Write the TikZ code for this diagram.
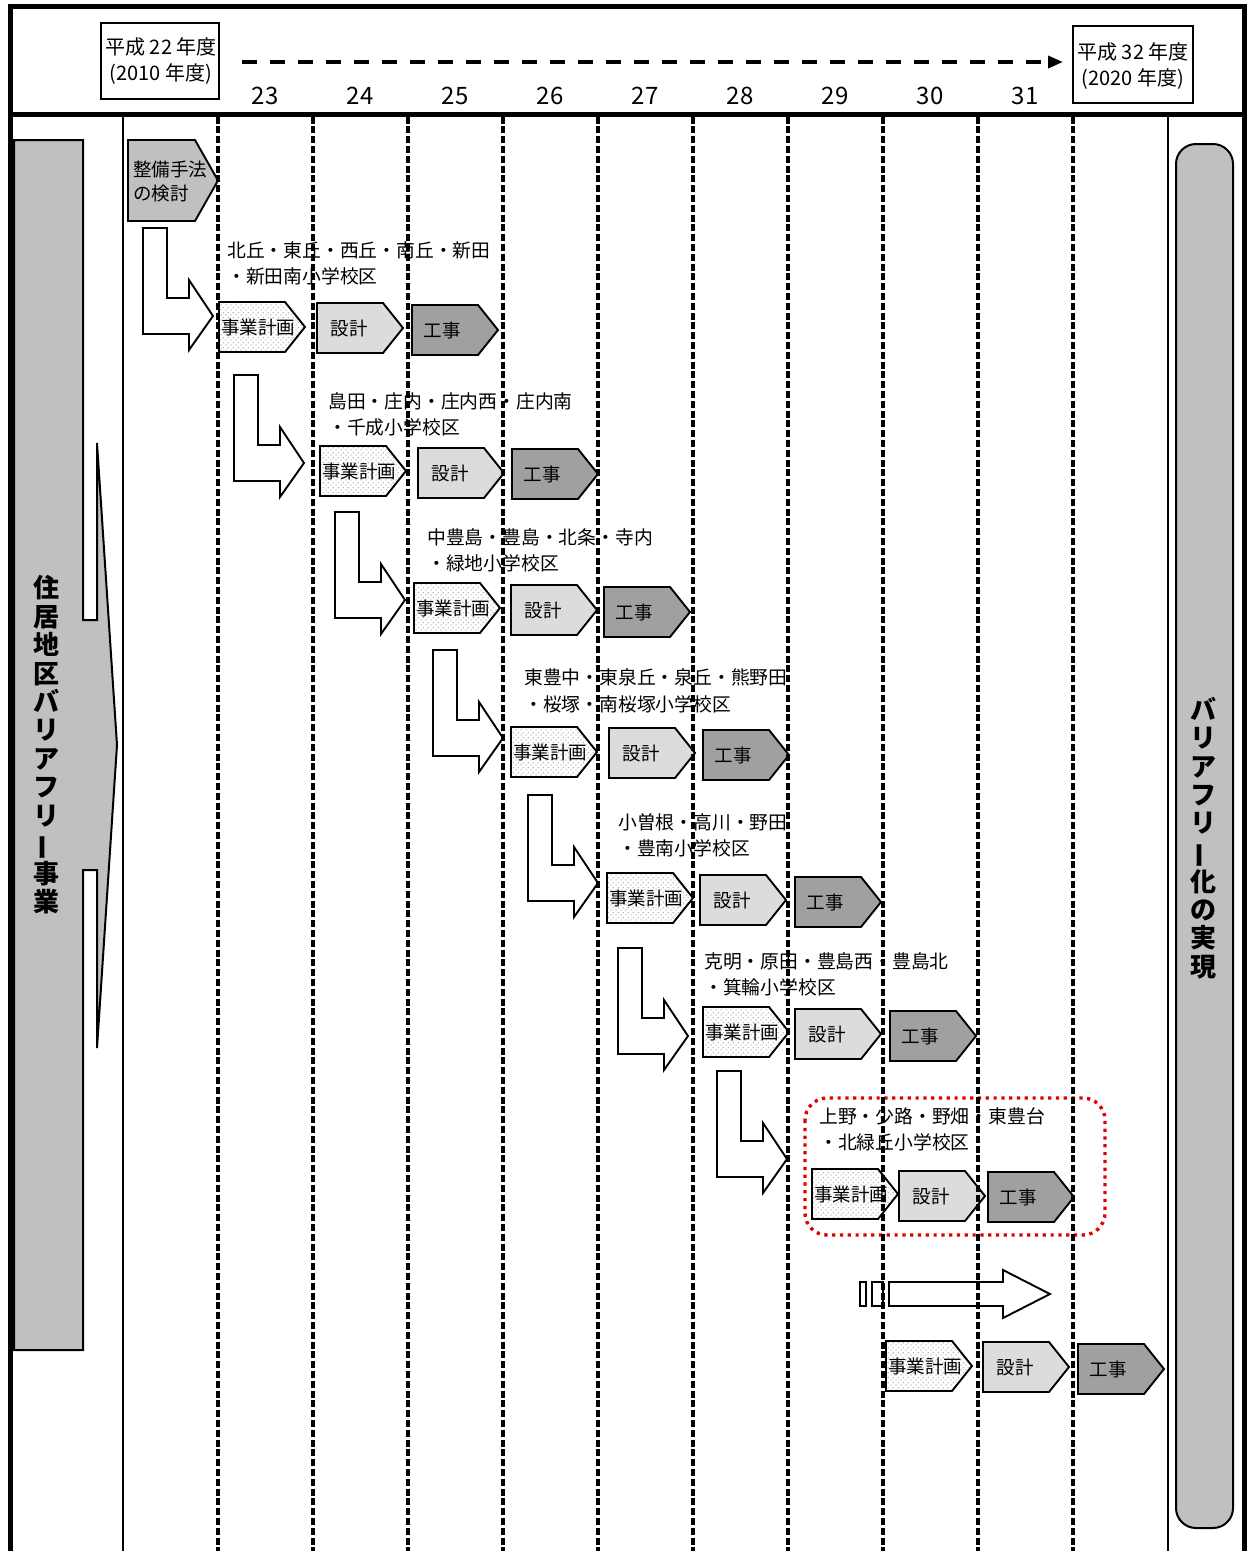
\documentclass[tikz,border=0pt]{standalone}
\usepackage{fontspec}
\usepackage{graphicx}
\setmainfont{Noto Sans CJK JP}
\usetikzlibrary{arrows.meta,patterns.meta}

\definecolor{barg}{HTML}{C0C0C0}
\definecolor{desg}{HTML}{DCDCDC}
\definecolor{cong}{HTML}{A0A0A0}
\definecolor{redd}{HTML}{E00000}

\tikzdeclarepattern{
  name=jdots,
  type=uncolored,
  bounding box={(0pt,0pt) and (5pt,5pt)},
  tile size={(5pt,5pt)},
  code={
    \fill (1.25pt,1.25pt) circle (0.8pt);
    \fill (3.75pt,3.75pt) circle (0.8pt);
  }
}

% vertical long-vowel mark for vertical text
\newcommand\vchoon{\raisebox{0.38em}{\rotatebox[origin=c]{90}{\raisebox{-0.38em}{ー}}}}

\tikzset{
  frameline/.style={line width=5pt, line join=miter},
  solidcol/.style={line width=2pt},
  dashcol/.style={line width=3.1pt, dash pattern=on 7pt off 2.8pt},
  shp/.style={draw=black, line width=1.9pt, line join=miter},
  planbox/.style={shp, pattern=jdots, pattern color=black!38},
  desbox/.style={shp, fill=desg},
  conbox/.style={shp, fill=cong},
  studybox/.style={shp, fill=barg},
  blk/.style={shp, fill=white},
  barshape/.style={draw=black, line width=2pt, fill=barg, line join=miter},
  txt/.style={inner sep=0pt, font=\fontsize{18.5}{22}\selectfont},
  lbl/.style={inner sep=0pt, anchor=west, font=\fontsize{18.8}{24}\selectfont},
  hdr/.style={inner sep=0pt, align=center, font=\fontsize{20}{26}\selectfont},
  hbox/.style={draw=black, line width=1.8pt},
  yr/.style={inner sep=0pt, font=\fontsize{24}{28}\selectfont},
  vtxt/.style={inner sep=0pt, align=center, font=\fontsize{26}{28.4}\selectfont\bfseries},
  reddot/.style={draw=redd, line width=3.4pt, dash pattern=on 3.2pt off 4.6pt, rounded corners=22pt},
  timearrow/.style={line width=3.5pt, dash pattern=on 15pt off 13pt, -{Triangle[length=15pt,width=12pt]}}
}

% one row of plan / design / construction boxes
\newcommand\steprow[7]{%
  \path[planbox] (#2,#3) -- ++(66,0) -- ++(20,25) -- ++(-20,25) -- ++(-66,0) -- cycle;
  \node[txt] (#1a) at ({#2+39},{#3+25}) {事業計画};
  \path[desbox] (#4,#5) -- ++(66,0) -- ++(20,25) -- ++(-20,25) -- ++(-66,0) -- cycle;
  \node[txt] (#1b) at ({#4+32},{#5+25}) {設計};
  \path[conbox] (#6,#7) -- ++(66,0) -- ++(20,25) -- ++(-20,25) -- ++(-66,0) -- cycle;
  \node[txt] (#1c) at ({#6+30},{#7+25}) {工事};
}
% L-shaped block arrow
\newcommand\larrowpath[2]{%
  \path[blk] (#1,#2) -- ++(24,0) -- ++(0,70) -- ++(22,0) -- ++(0,-18) -- ++(24,36)
     -- ++(-24,34) -- ++(0,-16) -- ++(-46,0) -- cycle;
}

\begin{document}
\begin{tikzpicture}[x=1pt,y=-1pt]
\useasboundingbox (0,0) rectangle (1247,1551);

% ---------- frame ----------
\draw[frameline] (10,1551) -- (10,6.5) -- (1244,6.5) -- (1244,1551);
\draw[frameline] (10,114) -- (1244,114);
\draw[solidcol] (123,114) -- (123,1551);
\draw[solidcol] (1168,114) -- (1168,1551);

% ---------- header ----------
\draw[hbox] (101,23) rectangle (219,99);
\node[hdr] (hstart) at (161,61) {平成 22 年度\\(2010 年度)};
\draw[hbox] (1073,26) rectangle (1193,103);
\node[hdr] (hend) at (1133,66) {平成 32 年度\\(2020 年度)};
\coordinate (arrS) at (242,62);
\coordinate (arrE) at (1063,62);
\draw[timearrow] (arrS) -- (arrE);
\foreach \n [count=\i from 0] in {23,24,25,26,27,28,29,30,31}
  \node[yr] (yr\n) at ({265+95*\i},96) {\n};

% ---------- left bar ----------
\path[barshape] (14,140) -- (83,140) -- (83,620) -- (97,620) -- (97,443) -- (117,745)
  -- (97,1048) -- (97,870) -- (83,870) -- (83,1350) -- (14,1350) -- cycle;
\node[vtxt] (lefttitle) at (46,745) {住\\居\\地\\区\\バ\\リ\\ア\\フ\\リ\\\vchoon\\事\\業};

% ---------- right bar ----------
\draw[draw=black, line width=2pt, fill=barg, rounded corners=20pt] (1176,144) rectangle (1233,1528);
\node[vtxt] (righttitle) at (1203,838) {バ\\リ\\ア\\フ\\リ\\\vchoon\\化\\の\\実\\現};

% ---------- study box ----------
\path[studybox] (128,140) -- (195,140) -- (218,180.5) -- (195,221) -- (128,221) -- cycle;
\node[txt, anchor=west] (study1) at (133,169) {整備手法};
\node[txt, anchor=west] (study2) at (133,194) {の検討};

% ---------- L arrows ----------
\larrowpath{143}{228}
\larrowpath{234}{375}
\larrowpath{335}{512}
\larrowpath{433}{650}
\larrowpath{528}{795}
\larrowpath{618}{948}
\larrowpath{717}{1071}

% ---------- rows ----------
\steprow{rA}{219}{302}{317}{303}{412}{305}
\steprow{rB}{320}{446}{418}{448}{512}{449}
\steprow{rC}{414}{583}{511}{585}{604}{587}
\steprow{rD}{511}{727}{609}{728}{703}{730}
\steprow{rE}{607}{873}{700}{875}{795}{877}
\steprow{rF}{703}{1007}{795}{1009}{890}{1011}
\steprow{rG}{812}{1169}{899}{1171}{988}{1172}
\steprow{rH}{886}{1341}{983}{1342}{1078}{1344}

% ---------- labels ----------
\node[lbl] (lA1) at (227,250) {北丘・東丘・西丘・南丘・新田};
\node[lbl] (lA2) at (227,276) {・新田南小学校区};
\node[lbl] (lB1) at (328,401) {島田・庄内・庄内西・庄内南};
\node[lbl] (lB2) at (328,427) {・千成小学校区};
\node[lbl] (lC1) at (427,537) {中豊島・豊島・北条・寺内};
\node[lbl] (lC2) at (427,563) {・緑地小学校区};
\node[lbl] (lD1) at (524,677) {東豊中・東泉丘・泉丘・熊野田};
\node[lbl] (lD2) at (524,704) {・桜塚・南桜塚小学校区};
\node[lbl] (lE1) at (618,822) {小曽根・高川・野田};
\node[lbl] (lE2) at (618,848) {・豊南小学校区};
\node[lbl] (lF1) at (704,961) {克明・原田・豊島西・豊島北};
\node[lbl] (lF2) at (704,987) {・箕輪小学校区};
\node[lbl] (lG1) at (819,1116) {上野・少路・野畑・東豊台};
\node[lbl] (lG2) at (819,1142) {・北緑丘小学校区};

% ---------- highlight ----------
\draw[reddot] (805,1098) rectangle (1105,1235);

% ---------- continuing arrow ----------
\path[blk] (860,1282) rectangle (866,1306);
\path[blk] (872,1282) rectangle (883,1306);
\path[blk] (889,1282) -- (1003,1282) -- (1003,1270) -- (1050,1294) -- (1003,1318)
  -- (1003,1306) -- (889,1306) -- cycle;

% ---------- dashed year lines (on top) ----------
\foreach \i in {0,...,9}
  \draw[dashcol] ({218+95*\i},116.5) -- ({218+95*\i},1551);
\end{tikzpicture}
\end{document}
